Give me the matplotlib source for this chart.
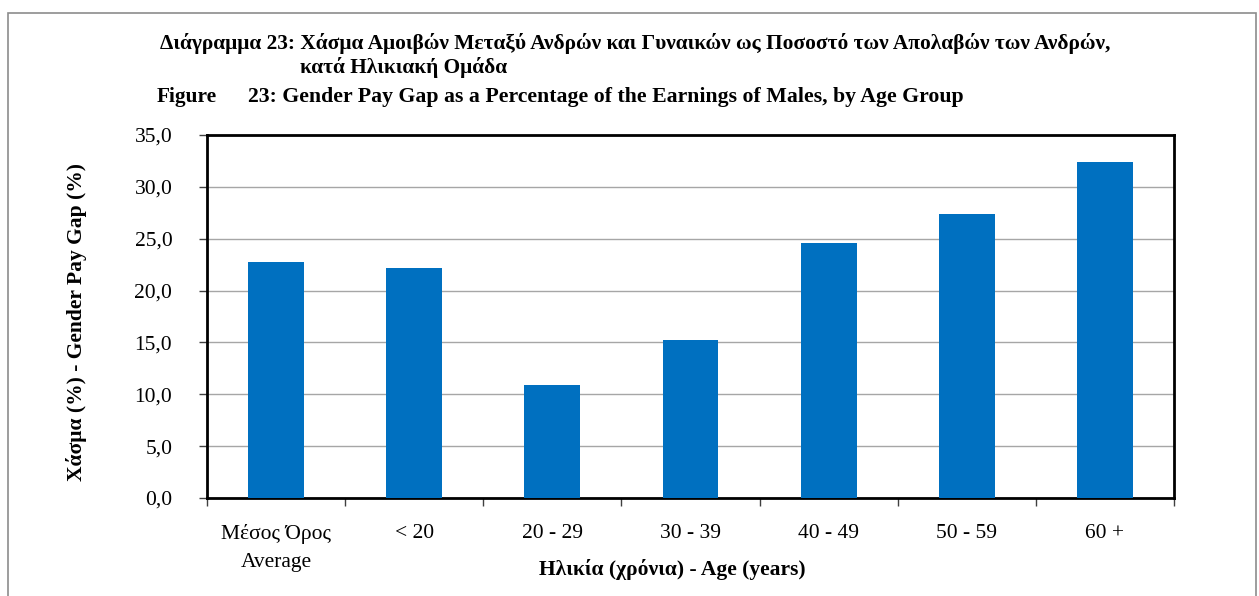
import matplotlib
matplotlib.use('Agg')
import matplotlib.pyplot as plt
from matplotlib.ticker import FuncFormatter, MultipleLocator, FixedLocator
from matplotlib.patches import Rectangle

# data
categories = ["Μέσος Όρος\nAverage", "< 20", "20 - 29", "30 - 39", "40 - 49", "50 - 59", "60 +"]
pay_gap = [22.8, 22.2, 10.9, 15.2, 24.6, 27.4, 32.4]

title_gr = "Διάγραμμα 23: Χάσμα Αμοιβών Μεταξύ Ανδρών και Γυναικών ως Ποσοστό των Απολαβών των Ανδρών,"
title_gr2 = "κατά Ηλικιακή Ομάδα"
title_en_a = "Figure"
title_en_b = "23: Gender Pay Gap as a Percentage of the Earnings of Males, by Age Group"
ylabel = "Χάσμα (%) - Gender Pay Gap (%)"
xlabel = "Ηλικία (χρόνια) - Age (years)"

plt.rcParams['font.family'] = ['Liberation Serif', 'DejaVu Serif']

fig = plt.figure(figsize=(12.59, 5.96), dpi=100)
ax = fig.add_axes([207 / 1259, 1 - 498 / 596, (1174 - 207) / 1259, (498 - 135) / 596])

# outer frame of the chart object
fig.patches.append(Rectangle((8 / 1259, -0.01), (1256 - 8) / 1259, 1 - 13 / 596 + 0.01,
                             transform=fig.transFigure, fill=False, edgecolor='#8c8c8c', linewidth=1.2))

x = list(range(len(categories)))
ax.bar(x, pay_gap, width=0.405, color='#0070C0', zorder=3)

ax.set_xlim(-0.5, len(categories) - 0.5)
ax.set_ylim(0, 35)
ax.yaxis.set_major_locator(MultipleLocator(5))
ax.yaxis.set_major_formatter(FuncFormatter(lambda v, p: ("%.1f" % v).replace('.', ',')))
ax.grid(axis='y', color='#a6a6a6', linewidth=1.0, zorder=0)

# category labels centred, ticks on the boundaries
ax.set_xticks(x)
ax.set_xticklabels(categories, fontsize=15.5, linespacing=1.6)
ax.tick_params(axis='x', which='major', length=0, pad=19)
ax.xaxis.set_minor_locator(FixedLocator([i - 0.5 for i in range(len(categories) + 1)]))
ax.tick_params(axis='x', which='minor', length=6, width=1, color='#404040')
ax.tick_params(axis='y', length=6, width=1, labelsize=15.5, pad=19, color='#404040')

for s in ax.spines.values():
    s.set_linewidth(2)
    s.set_color('black')

ax.set_ylabel(ylabel, fontsize=15.5, fontweight='bold')
ax.yaxis.set_label_coords(-0.1236, 0.486)
ax.set_xlabel(xlabel, fontsize=15.5, fontweight='bold')
ax.xaxis.set_label_coords(0.4814, -0.167)

fig.text(635 / 1259, 1 - 43 / 596, title_gr, ha='center', va='center', fontsize=15.4, fontweight='bold')
fig.text(300 / 1259, 1 - 68 / 596, title_gr2, ha='left', va='center', fontsize=15.4, fontweight='bold')
fig.text(157 / 1259, 1 - 97 / 596, title_en_a, ha='left', va='center', fontsize=15.4, fontweight='bold')
fig.text(248 / 1259, 1 - 97 / 596, title_en_b, ha='left', va='center', fontsize=15.7, fontweight='bold')

fig.savefig('out.png', dpi=100)
plt.close()
